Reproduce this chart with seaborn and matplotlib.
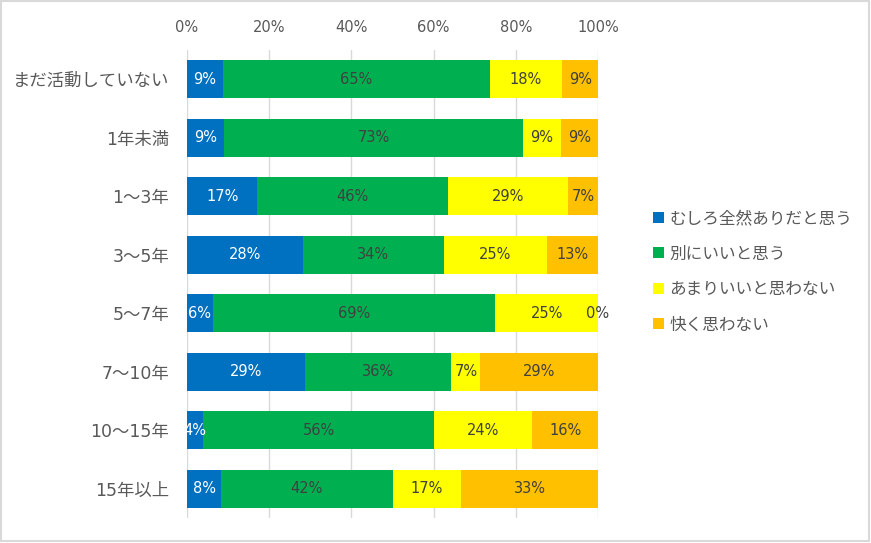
import numpy as np
import pandas as pd
import matplotlib.pyplot as plt
import seaborn as sns
from matplotlib.patches import Patch, Rectangle

# categories (top to bottom)
categories = ['まだ活動していない', '1年未満', '1～3年', '3～5年',
              '5～7年', '7～10年', '10～15年', '15年以上']

series_names = ['むしろ全然ありだと思う', '別にいいと思う',
                'あまりいいと思わない', '快く思わない']

# percentage shares
muskiro = [8.7, 9.1, 17.1, 28.1, 6.25, 28.6, 4.0, 8.3]
betsuni = [64.9, 72.7, 46.3, 34.4, 68.75, 35.7, 56.0, 41.7]
amari = [17.7, 9.1, 29.3, 25.0, 25.0, 7.1, 24.0, 16.7]
kokoroyoku = [8.7, 9.1, 7.3, 12.5, 0.0, 28.6, 16.0, 33.3]

colors = ['#0070C0', '#00B050', '#FFFF00', '#FFC000']
text_colors = ['white', '#404040', '#404040', '#404040']

df = pd.DataFrame({
    'cat': categories,
    series_names[0]: muskiro,
    series_names[1]: betsuni,
    series_names[2]: amari,
    series_names[3]: kokoroyoku,
})
cum = df[series_names].cumsum(axis=1)

sns.set_theme(style='white')
plt.rcParams['font.family'] = ['DejaVu Sans', 'Noto Sans CJK JP']

fig = plt.figure(figsize=(8.71, 5.43), dpi=100)
ax = fig.add_axes([0.2147, 0.046, 0.4719, 0.862])

# stacked bars: draw cumulative totals from the last series back to the first
for i in range(len(series_names) - 1, -1, -1):
    sns.barplot(x=cum[series_names[i]], y=df['cat'], orient='h',
                color=colors[i], width=0.65, linewidth=0,
                saturation=1, ax=ax, zorder=3)

# value labels in the middle of each segment
for i, name in enumerate(series_names):
    left = cum[name] - df[name]
    for j in range(len(categories)):
        v = df[name].iloc[j]
        ax.text(left.iloc[j] + v / 2, j, f'{int(v + 0.5)}%',
                ha='center', va='center', fontsize=10.5,
                color=text_colors[i], zorder=5)

ax.set_xlim(0, 100)
ax.set_ylim(7.5, -0.5)
ax.set_xticks(np.arange(0, 101, 20))
ax.set_xticklabels([f'{t}%' for t in range(0, 101, 20)])
ax.xaxis.tick_top()
ax.tick_params(axis='x', length=0, pad=11, labelsize=10.5, colors='#595959')
ax.tick_params(axis='y', length=0, pad=13, labelsize=12.5, colors='#595959')
ax.set_xlabel('')
ax.set_ylabel('')
ax.grid(axis='x', color='#D9D9D9', linewidth=1, zorder=0)
ax.set_axisbelow(True)
for s in ax.spines.values():
    s.set_visible(False)

handles = [Patch(facecolor=c, edgecolor='none') for c in colors]
fig.legend(handles, series_names, loc='center left',
           bbox_to_anchor=(0.733, 0.5), frameon=False, fontsize=12,
           labelcolor='#595959', handlelength=0.65, handleheight=0.65,
           handletextpad=0.3, labelspacing=1.05)

fig.patches.append(Rectangle((0.001, 0.003), 0.997, 0.995, transform=fig.transFigure,
                             fill=False, edgecolor='#D9D9D9', linewidth=1.5))

plt.savefig('out.png', dpi=100)
